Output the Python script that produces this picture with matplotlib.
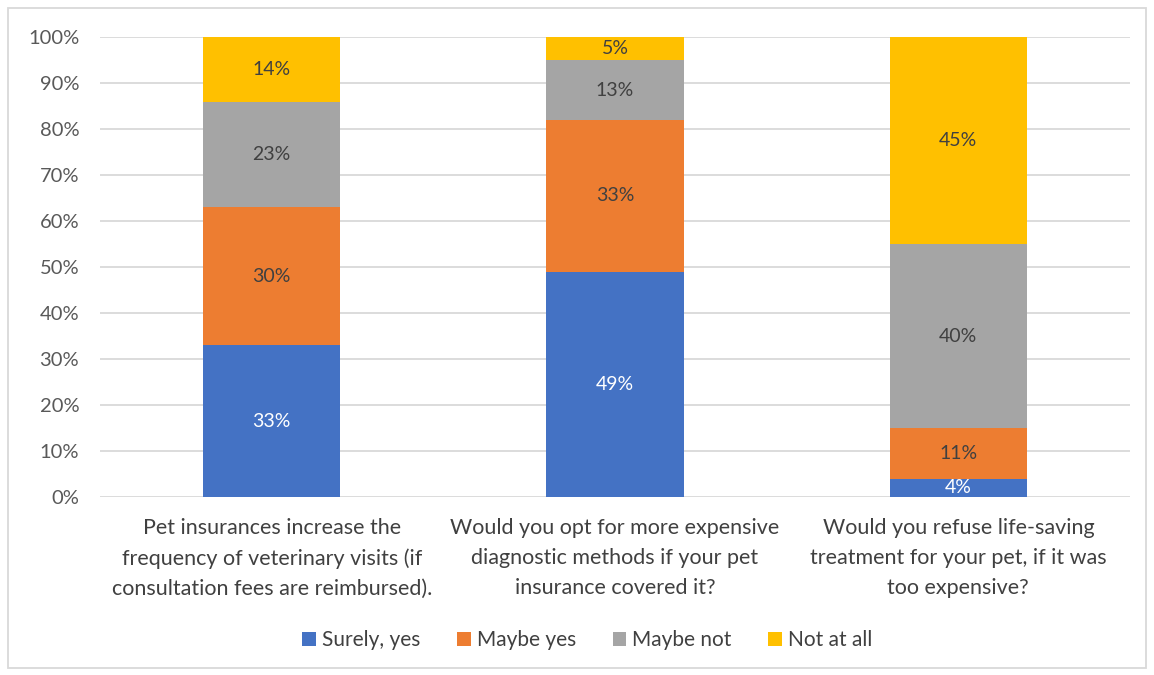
import matplotlib.pyplot as plt
import numpy as np

questions = [
    "Pet insurances increase the\nfrequency of veterinary visits (if\nconsultation fees are reimbursed).",
    "Would you opt for more expensive\ndiagnostic methods if your pet\ninsurance covered it?",
    "Would you refuse life-saving\ntreatment for your pet, if it was\ntoo expensive?",
]
series = ["Surely, yes", "Maybe yes", "Maybe not", "Not at all"]
surely_yes = [33, 49, 4]
maybe_yes = [30, 33, 11]
maybe_not = [23, 13, 40]
not_at_all = [14, 5, 45]
colors = ["#4472C4", "#ED7D31", "#A5A5A5", "#FFC000"]
label_colors = ["white", "#404040", "#404040", "#404040"]

plt.rcParams["font.family"] = ["Lato", "DejaVu Sans"]

fig = plt.figure(figsize=(11.54, 6.75), dpi=100)
ax = fig.add_axes([0.0867, 0.2637, 0.8925, 0.6813])

x = np.arange(len(questions))
bottom = np.zeros(len(questions))
for name, vals, c, lc in zip(series, [surely_yes, maybe_yes, maybe_not, not_at_all], colors, label_colors):
    vals = np.array(vals)
    ax.bar(x, vals, width=0.4, bottom=bottom, color=c, label=name, zorder=3)
    for xi, v, b in zip(x, vals, bottom):
        ax.text(xi, b + v / 2, f"{v}%", ha="center", va="center", color=lc, fontsize=14, zorder=4)
    bottom += vals

ax.set_xlim(-0.5, 2.5)
ax.set_ylim(0, 100)
ax.set_yticks(range(0, 101, 10))
ax.set_yticklabels([f"{t}%" for t in range(0, 101, 10)])
ax.set_xticks(x)
ax.set_xticklabels(questions, fontsize=15.5, color="#404040", linespacing=1.62)
ax.tick_params(axis="y", colors="#595959", labelsize=14.5, length=0, pad=15)
ax.tick_params(axis="x", length=0, pad=15)
ax.grid(axis="y", color="#D9D9D9", linewidth=1.3, zorder=0)
for s in ax.spines.values():
    s.set_visible(False)

fig.legend(loc="center", bbox_to_anchor=(0.509, 0.052), ncol=4, frameon=False,
           fontsize=15, handlelength=0.65, handleheight=0.65, handletextpad=0.3,
           columnspacing=1.75, labelcolor="#404040")

fig.patches.append(plt.Rectangle((0.007, 0.01), 0.986, 0.978, transform=fig.transFigure,
                                 fill=False, edgecolor="#D9D9D9", linewidth=1.3))

fig.savefig("out.png", dpi=100)
